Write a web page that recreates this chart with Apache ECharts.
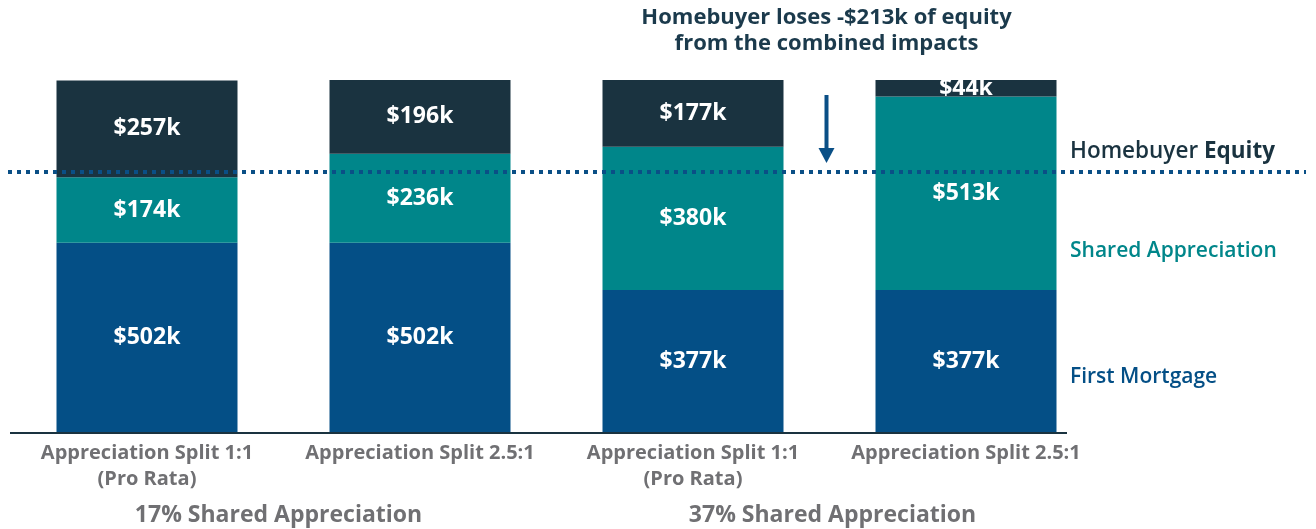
<!DOCTYPE html>
<html>
<head>
<meta charset="utf-8">
<script src="https://cdn.jsdelivr.net/npm/echarts@6/dist/echarts.min.js"></script>
<style>
html,body{margin:0;padding:0;background:#fff;}
#chart{width:1316px;height:529px;}
</style>
</head>
<body>
<div id="chart"></div>
<script>
const categories = ['Appreciation Split 1:1\n(Pro Rata)', 'Appreciation Split 2.5:1', 'Appreciation Split 1:1\n(Pro Rata)', 'Appreciation Split 2.5:1'];
const firstMortgage = [502, 502, 377, 377];
const sharedAppreciation = [174, 236, 380, 513];
const homebuyerEquity = [257, 196, 177, 44];
const groupLabels = ['17% Shared Appreciation', '37% Shared Appreciation'];
const seriesNames = ['First Mortgage', 'Shared Appreciation', 'Homebuyer Equity'];
const referenceLevel = 690;
const annotation = 'Homebuyer loses -$213k of equity\nfrom the combined impacts';

const FONT = 'Open Sans';
const C_EQ = '#1a3340', C_SH = '#00868a', C_FM = '#044f86';
const chart = echarts.init(document.getElementById('chart'), null, {renderer: 'canvas'});

const lbl = {show: true, position: 'inside', color: '#fff', fontFamily: FONT, fontWeight: 'bold', fontSize: 23,
  formatter: p => '$' + p.value + 'k'};

chart.setOption({
  animation: false,
  grid: {left: 10.5, right: 213.5, top: 80, bottom: 97},
  xAxis: {type: 'category', data: categories,
    axisLine: {show: false}, axisTick: {show: false},
    axisLabel: {color: '#707073', fontFamily: FONT, fontWeight: 'bold', fontSize: 20, margin: 8, lineHeight: 26, interval: 0}},
  yAxis: {type: 'value', min: 0, max: 934, show: false, splitLine: {show: false}},
  series: [
    {name: seriesNames[0], type: 'bar', stack: 't', barWidth: 181, data: firstMortgage, itemStyle: {color: C_FM}, label: lbl},
    {name: seriesNames[1], type: 'bar', stack: 't', barWidth: 181, data: sharedAppreciation, itemStyle: {color: C_SH}, label: lbl},
    {name: seriesNames[2], type: 'bar', stack: 't', barWidth: 181, data: homebuyerEquity, itemStyle: {color: C_EQ}, label: lbl}
  ]
});

const yRef = chart.convertToPixel({yAxisIndex: 0}, referenceLevel);
const y0 = chart.convertToPixel({yAxisIndex: 0}, 0);
const x0 = chart.convertToPixel({xAxisIndex: 0}, 0);
const x1 = chart.convertToPixel({xAxisIndex: 0}, 1);
const x2 = chart.convertToPixel({xAxisIndex: 0}, 2);
const x3 = chart.convertToPixel({xAxisIndex: 0}, 3);
const arrowX = (x2 + x3) / 2 - 3;

chart.setOption({
  graphic: [
    {type: 'line', shape: {x1: 10, y1: y0 + 1, x2: 1067, y2: y0 + 1}, style: {stroke: '#1a3340', lineWidth: 2}, z: 10},
    {type: 'line', shape: {x1: 8, y1: yRef, x2: 1306, y2: yRef}, style: {stroke: '#0a4f86', lineWidth: 4, lineDash: [4, 5]}, z: 20},
    {type: 'line', shape: {x1: arrowX, y1: 95, x2: arrowX, y2: 150}, style: {stroke: '#0a4f86', lineWidth: 4}, z: 20},
    {type: 'polygon', shape: {points: [[arrowX - 8, 148], [arrowX + 8, 148], [arrowX, 163]]}, style: {fill: '#0a4f86'}, z: 20},
    {type: 'text', x: arrowX, y: 5, style: {text: annotation, textAlign: 'center', textVerticalAlign: 'top',
      font: 'bold 22px "' + FONT + '"', lineHeight: 26, fill: '#1b3a4c'}, z: 30},
    {type: 'text', x: 1070, y: 152, style: {text: '{a|Homebuyer }{b|Equity}', textVerticalAlign: 'middle',
      rich: {a: {fontFamily: FONT, fontSize: 22.5, fontWeight: 600, fill: C_EQ}, b: {fontFamily: FONT, fontSize: 22.5, fontWeight: 'bold', fill: C_EQ}}}, z: 30},
    {type: 'text', x: 1070, y: 251, style: {text: seriesNames[1], textVerticalAlign: 'middle', font: '600 21px "' + FONT + '"', fill: C_SH}, z: 30},
    {type: 'text', x: 1070, y: 377, style: {text: seriesNames[0], textVerticalAlign: 'middle', font: '600 21px "' + FONT + '"', fill: C_FM}, z: 30},
    {type: 'text', x: (x0 + x1) / 2 - 5, y: 515, style: {text: groupLabels[0], textAlign: 'center', textVerticalAlign: 'middle', font: 'bold 23px "' + FONT + '"', fill: '#707073'}, z: 30},
    {type: 'text', x: (x2 + x3) / 2 + 3, y: 515, style: {text: groupLabels[1], textAlign: 'center', textVerticalAlign: 'middle', font: 'bold 23px "' + FONT + '"', fill: '#707073'}, z: 30}
  ]
});
</script>
</body>
</html>
